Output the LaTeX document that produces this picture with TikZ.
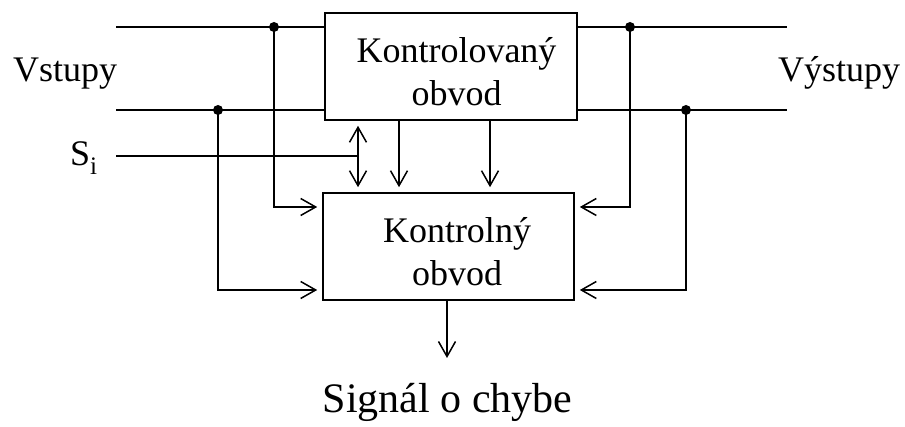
\documentclass[tikz,border=0pt]{standalone}
\usepackage{fontspec}
\setmainfont{Liberation Serif}
\usetikzlibrary{arrows.meta}
\begin{document}
\begin{tikzpicture}[x=1pt,y=-1pt,
  wire/.style={line width=1.6pt},
  tip/.tip={Straight Barb[length=15pt,width=17pt,line width=1.5pt]},
  arr/.style={wire,-tip,shorten >=5pt},
  blk/.style={draw,line width=1.6pt,inner sep=0pt},
  lbl/.style={font=\fontsize{36}{43}\selectfont,inner sep=0pt},
  dot/.style={fill=black}]
\useasboundingbox (0,0) rectangle (905,427);
% boxes
\node[blk,minimum width=252pt,minimum height=107pt] (b1) at (451,66.5) {};
\node[blk,minimum width=251pt,minimum height=107pt] (b2) at (448.5,246.5) {};
\node[lbl,align=center,anchor=base] (t1) at (456.5,106) {Kontrolovaný\\obvod};
\node[lbl,align=center,anchor=base] (t2) at (457,286) {Kontrolný\\obvod};
% labels
\node[lbl,anchor=base west] (vst) at (13,82) {Vstupy};
\node[lbl,anchor=base west] (vys) at (778,82) {Výstupy};
\node[lbl,anchor=base west] (si) at (70,166) {S\textsubscript{i}};
\node[inner sep=0pt,font=\fontsize{42}{50}\selectfont,anchor=base] (sig) at (447.5,413) {Signál o chybe};
% coordinates
\coordinate (i1) at (116,27);
\coordinate (i2) at (116,110);
\coordinate (o1) at (787,27);
\coordinate (o2) at (787,110);
\coordinate (s0) at (116,156);
\coordinate (sj) at (358,156);
\coordinate (sout) at (447,358);
\coordinate (d1) at (274,27);
\coordinate (d2) at (218,110);
\coordinate (d3) at (630,27);
\coordinate (d4) at (686,110);
% input/output lines
\draw[wire] (i1) -- (i1 -| b1.west);
\draw[wire] (i2) -- (i2 -| b1.west);
\draw[wire] (o1 -| b1.east) -- (o1);
\draw[wire] (o2 -| b1.east) -- (o2);
% feeds to control circuit
\draw[arr] (d1) |- (b2.west |- 0,207);
\draw[arr] (d2) |- (b2.west |- 0,290);
\draw[arr] (d3) |- (b2.east |- 0,207);
\draw[arr] (d4) |- (b2.east |- 0,290);
\foreach \d in {d1,d2,d3,d4} \fill[dot] (\d) circle (5pt);
% Si and vertical arrows
\draw[wire] (s0) -- (sj);
\draw[wire,tip-tip,shorten <=5pt,shorten >=5pt] (b1.south -| sj) -- (b2.north -| sj);
\draw[arr] (b1.south -| 399,0) -- (b2.north -| 399,0);
\draw[arr] (b1.south -| 490,0) -- (b2.north -| 490,0);
% output
\draw[wire,-tip] (b2.south -| sout) -- (sout);
\end{tikzpicture}
\end{document}
